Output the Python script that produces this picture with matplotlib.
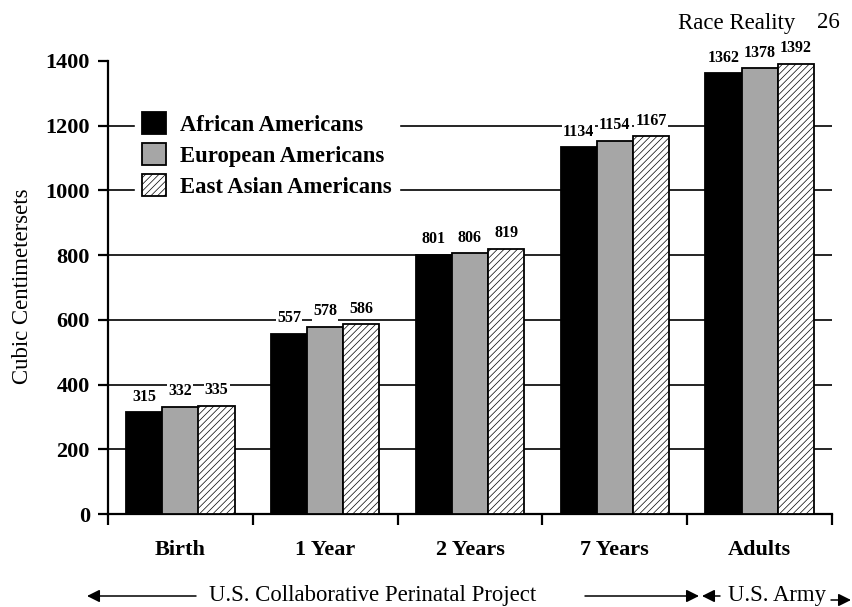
import matplotlib
matplotlib.use("Agg")
import matplotlib.pyplot as plt
from matplotlib.patches import Patch, FancyArrowPatch
import numpy as np

categories = ["Birth", "1 Year", "2 Years", "7 Years", "Adults"]
african = [315, 557, 801, 1134, 1362]
european = [332, 578, 806, 1154, 1378]
east_asian = [335, 586, 819, 1167, 1392]
series_names = ["African Americans", "European Americans", "East Asian Americans"]
y_ticks = [0, 200, 400, 600, 800, 1000, 1200, 1400]

plt.rcParams['font.family'] = ['Liberation Serif', 'DejaVu Serif']
plt.rcParams['hatch.linewidth'] = 0.5

fig = plt.figure(figsize=(8.53, 6.07), dpi=100)
ax = fig.add_axes([108/853, 1-514/607, 724/853, 453/607])

gray = '#a6a6a6'
styles = [dict(facecolor='black', edgecolor='black'),
          dict(facecolor=gray, edgecolor='black'),
          dict(facecolor='white', edgecolor='black', hatch='/////')]
series = [african, european, east_asian]
width = 0.25
centers = np.arange(len(categories)) + 0.5
for k, (vals, st) in enumerate(zip(series, styles)):
    xs = centers + (k - 1) * width
    ax.bar(xs, vals, width=width, linewidth=1.3, zorder=3, **st)
    for x, v in zip(xs, vals):
        ax.annotate(str(v), (x, v), xytext=(0, 11.2), textcoords='offset points',
                    ha='center', va='center', fontsize=11.5, fontweight='bold',
                    bbox=dict(facecolor='white', edgecolor='none', pad=0.8), zorder=4)

ax.set_xlim(0, len(categories))
ax.set_ylim(0, 1400)
ax.set_yticks(y_ticks)
ax.set_yticklabels([str(t) for t in y_ticks], fontsize=16, fontweight='bold')
for t in y_ticks[1:-1]:
    ax.axhline(t, color='black', linewidth=1.2, zorder=1)

ax.set_xticks(centers)
ax.set_xticklabels(categories, fontsize=16, fontweight='bold')
ax.set_xticks(np.arange(len(categories) + 1), minor=True)
ax.tick_params(axis='x', which='major', length=0, pad=19)
ax.tick_params(axis='x', which='minor', length=8, width=1.6, direction='out')
ax.tick_params(axis='y', which='major', length=7, width=1.6, direction='out', pad=6)

for s in ['top', 'right']:
    ax.spines[s].set_visible(False)
ax.spines['left'].set_linewidth(1.6)
ax.spines['bottom'].set_linewidth(1.6)

ax.set_ylabel("Cubic Centimetersets", fontsize=16.4)
ax.yaxis.set_label_coords(-0.1035, 0.503)

handles = [Patch(linewidth=1.3, **st) for st in styles]
leg = ax.legend(handles, series_names, loc='upper left', bbox_to_anchor=(0.037, 0.902),
                borderaxespad=0, frameon=True, fancybox=False, framealpha=1,
                edgecolor='white', facecolor='white', borderpad=0.3,
                handlelength=1.08, handleheight=1.13, handletextpad=0.63,
                labelspacing=0.32,
                prop={'weight': 'bold', 'size': 16.3, 'family': 'Liberation Serif'})
leg.set_zorder(5)

# header
fig.text(795/853, 1-23/607, "Race Reality", ha='right', va='center', fontsize=16.4)
fig.text(817/853, 1-23/607, "26", ha='left', va='center', fontsize=16.4)

# bottom source annotation
yb = 1 - 596/607
fig.text(373/853, yb, "U.S. Collaborative Perinatal Project", ha='center', va='center', fontsize=16.4)
fig.text(777/853, yb, "U.S. Army", ha='center', va='center', fontsize=16.4)
ap = dict(arrowstyle='-|>', color='black', lw=1.1, mutation_scale=19, shrinkA=0, shrinkB=0)
fig.add_artist(FancyArrowPatch((196/853, yb), (87/853, yb), transform=fig.transFigure, **ap))
fig.add_artist(FancyArrowPatch((585/853, yb), (699/853, yb), transform=fig.transFigure, **ap))
fig.add_artist(FancyArrowPatch((720/853, yb), (702/853, yb), transform=fig.transFigure, **ap))
yb2 = 1 - 600/607
fig.add_artist(FancyArrowPatch((831/853, yb2), (851/853, yb2), transform=fig.transFigure, **ap))

fig.savefig("out.png", dpi=100)
